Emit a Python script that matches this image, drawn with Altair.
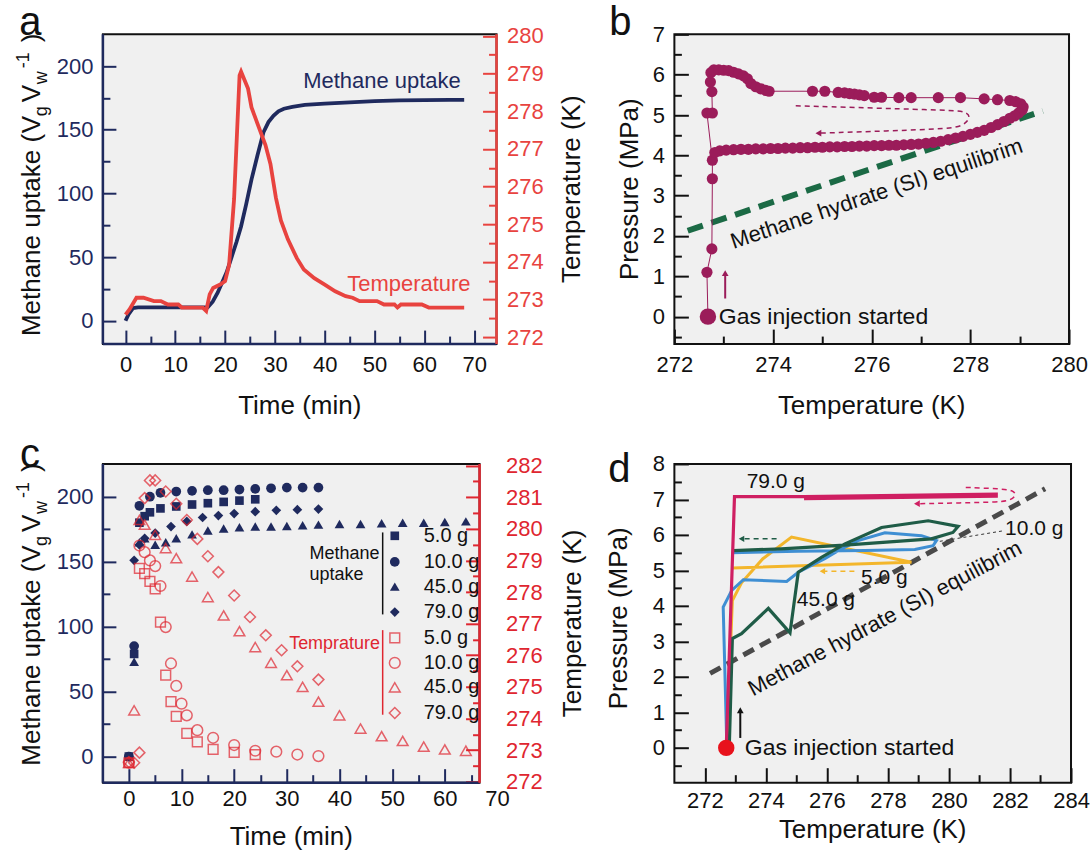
import altair as alt
import pandas as pd

FONT = "Liberation Sans"
BLACK = "#111111"
NAVY = "#1f2a5e"
RED_A = "#e8433f"
RED_C = "#df2630"
MAROON = "#9b1c5a"
GREEN_EQ = "#1b6a45"
GRAY_EQ = "#4a4a4a"
C79 = "#cf1f62"
C5 = "#f3b62b"
C10 = "#3f8fd3"
C45 = "#1f5c47"
DOT = "#e8121c"
BG = "#f0f0f0"

LABEL_FS = 22
TITLE_FS = 26
NOTE_FS = 22
LETTER_FS = 40

# ---------------- panel a data ----------------
a_uptake_t = [0, 0.6, 1.5, 2.5, 6, 10, 14, 16.5, 17.5, 18.5, 19.4, 20.3, 21.3, 22.3, 23.2, 24.2,
              25.3, 26.5, 27.7, 28.7, 29.7, 30.7, 31.8, 33.5, 36, 40, 45, 50, 55, 60, 65, 68]
a_uptake_v = [0, 5, 10, 10.5, 10.5, 10.5, 10.5, 10.5, 15, 22, 30, 38, 50, 62, 74, 91,
              111, 130, 148, 156, 161, 164.5, 166.5, 168, 169.5, 170.5, 171.5, 172.5, 173, 173.3, 173.5, 173.5]
a_temp_t = [0, 0.8, 2.2, 3.6, 5.7, 7.1, 8.5, 10.6, 11.3, 15.5, 16.2, 16.9, 17.6, 19, 20, 20.8,
            21.8, 22.9, 23.2, 24.6, 25.3, 26.7, 28.1, 29.1, 30.2, 31.2, 32.6, 34.4, 35.8, 37.9,
            40, 42.1, 44.2, 45.6, 47, 50.5, 51.9, 54, 54.6, 55.3, 59.5, 60.9, 68]
a_temp = [272.6, 272.74, 273.05, 273.05, 272.96, 272.96, 272.87, 272.87, 272.79, 272.79, 272.7,
          273.14, 273.31, 273.4, 273.49, 273.92, 275.67, 278.95, 279.05, 278.6, 278.1, 277.6,
          277.1, 276.6, 275.7, 275.1, 274.6, 274.1, 273.8, 273.57, 273.4, 273.22, 273.09,
          273.05, 272.96, 272.96, 272.87, 272.87, 272.79, 272.87, 272.87, 272.79, 272.79]

# ---------------- panel b data ----------------
b_temp = [272.68, 272.66, 272.76, 272.77, 272.77, 272.66, 272.77, 272.76, 272.73, 272.74,
          272.8, 272.9, 273.0, 273.1, 273.2, 273.3, 273.4, 273.48, 273.55, 273.65,
          273.75, 273.85, 273.92, 274.8, 275.05, 275.32, 275.45, 275.55, 275.65, 275.75,
          275.85, 276.05, 276.2, 276.55, 276.8, 277.35, 277.8, 278.28, 278.55, 278.8,
          278.92, 279.02, 279.07, 279.05, 278.98, 278.9, 278.8, 278.68, 278.55, 278.42,
          278.28, 278.14, 278.0, 277.85, 277.7, 277.55, 277.4, 277.25, 277.1, 276.95,
          276.8, 276.65, 276.5, 276.35, 276.2, 276.05, 275.9, 275.75, 275.6, 275.45,
          275.3, 275.15, 275.0, 274.85, 274.7, 274.55, 274.4, 274.25, 274.1, 273.95,
          273.8, 273.65, 273.5, 273.35, 273.2, 273.05, 272.92, 272.82]
b_pres = [0.0, 1.1, 1.68, 3.42, 3.88, 5.05, 5.05, 5.58, 5.82, 6.05,
          6.12, 6.12, 6.11, 6.1, 6.06, 6.02, 5.97, 5.9, 5.78, 5.7,
          5.65, 5.61, 5.59, 5.59, 5.59, 5.56, 5.55, 5.53, 5.52, 5.5,
          5.48, 5.44, 5.44, 5.43, 5.43, 5.43, 5.43, 5.4, 5.38, 5.36,
          5.33, 5.28, 5.2, 5.12, 5.05, 4.98, 4.92, 4.84, 4.76, 4.69,
          4.62, 4.57, 4.52, 4.47, 4.43, 4.39, 4.35, 4.32, 4.3, 4.28,
          4.27, 4.26, 4.25, 4.25, 4.24, 4.24, 4.23, 4.23, 4.22, 4.22,
          4.21, 4.21, 4.2, 4.2, 4.19, 4.19, 4.18, 4.18, 4.17, 4.17,
          4.16, 4.16, 4.15, 4.15, 4.14, 4.13, 4.11, 4.07]
b_eq_T = [272.27, 279.47]
b_eq_P = [2.13, 5.10]
b_arrow_T = [274.46, 277.5, 277.9, 278.02, 277.85, 277.5, 274.92]
b_arrow_P = [5.23, 5.12, 5.1, 4.95, 4.72, 4.65, 4.55]

# ---------------- panel c data ----------------
c_sq_t = [0, 1, 2, 3, 4, 6, 9, 12, 15, 18, 21, 24]
c_sq_v = [0, 79, 180, 185, 188, 191, 192.5, 194, 195, 196, 197, 198]
c_ci_t = [0, 1, 2, 4, 6, 9, 12, 15, 18, 21, 24, 27, 30, 33, 36]
c_ci_v = [0, 85, 193, 200, 203, 204, 204.5, 205, 205, 205.5, 206, 206.5, 207, 207, 207]
c_tr_t = [0, 1, 2, 3, 5, 7, 9, 12, 15, 18, 21, 24, 27, 30, 33, 36, 40, 44, 48, 52, 56, 60, 64]
c_tr_v = [0, 73, 165, 168, 163, 165, 168, 171, 174, 175.5, 176.5, 177, 177, 177.5, 178, 178.5,
          179, 179, 179.5, 180, 180, 180.5, 181]
c_di_t = [0, 1, 2, 3, 5, 8, 11, 14, 17, 20, 24, 28, 32, 36]
c_di_v = [0, 151, 163, 168, 172, 177, 181, 184, 185.5, 187, 188.5, 189.5, 190, 190.5]

c_osq_t = [0, 2, 3, 4, 5, 6, 7, 8, 9, 11, 13, 16, 20, 24]
c_osq_T = [272.6, 278.75, 278.58, 278.34, 278.1, 277.05, 275.37, 274.53, 274.07, 273.53, 273.26,
           273.02, 272.93, 272.86]
c_oci_t = [0, 2, 3, 4, 5, 6, 7, 8, 9, 10, 11, 13, 16, 20, 24, 28, 32, 36]
c_oci_T = [272.6, 279.47, 279.26, 279.0, 278.82, 278.19, 276.89, 275.74, 275.03, 274.47, 274.1,
           273.63, 273.39, 273.16, 272.98, 272.95, 272.86, 272.81]
c_otr_t = [0, 1, 2, 3, 5, 7, 9, 12, 15, 18, 21, 24, 27, 30, 33, 36, 40, 44, 48, 52, 56, 60, 64]
c_otr_T = [272.6, 274.26, 280.28, 280.13, 279.81, 279.39, 279.07, 278.49, 277.84, 277.26, 276.76,
           276.26, 275.76, 275.37, 275.0, 274.53, 274.1, 273.68, 273.44, 273.29, 273.11, 273.02, 272.98]
c_odi_t = [0, 1, 2, 3, 4, 5, 7, 9, 11, 13, 15, 17, 20, 23, 26, 29, 32, 36]
c_odi_T = [272.62, 272.6, 272.92, 280.97, 281.53, 281.53, 281.18, 280.79, 280.28, 279.68, 279.13,
           278.63, 277.89, 277.21, 276.63, 276.16, 275.65, 275.23]

c_legend_labels = ["5.0 g", "10.0 g", "45.0 g", "79.0 g", "5.0 g", "10.0 g", "45.0 g", "79.0 g"]
c_legend_rows = [169.9, 149.8, 130.8, 111.2, 91.4, 72.1, 53.3, 33.5]

# ---------------- panel d data ----------------
d79_T = [272.7, 272.97, 275.25, 281.55, 281.55, 275.25]
d79_P = [0.0, 7.08, 7.08, 7.15, 7.09, 7.02]
d5_T = [272.72, 272.8, 272.83, 272.9, 273.2, 273.9, 274.84, 278.77, 272.9]
d5_P = [0.0, 1.75, 2.6, 4.15, 4.65, 5.33, 5.94, 5.23, 5.07]
d10_T = [272.72, 272.6, 272.88, 273.26, 274.68, 275.06, 275.93, 276.48, 277.02, 277.9, 279.1,
         279.59, 279.48, 278.88, 277.24, 275.06, 272.88]
d10_P = [0.0, 3.97, 4.44, 4.74, 4.69, 4.95, 5.33, 5.61, 5.84, 6.06, 5.98, 5.84, 5.7, 5.59, 5.56,
         5.54, 5.5]
d45_T = [272.8, 272.9, 273.2, 274.08, 274.79, 275.06, 275.82, 276.59, 277.79, 279.32, 280.3,
         280.13, 279.42, 276.7, 274.51, 272.93]
d45_P = [0.05, 3.08, 3.22, 3.93, 3.24, 4.95, 5.37, 5.75, 6.21, 6.4, 6.24, 6.07, 5.89, 5.72, 5.61,
         5.56]
d_eq_T = [272.17, 283.15]
d_eq_P = [2.1, 7.3]
d79_arrow_T = [280.55, 281.7, 282.1, 282.22, 282.0, 281.5, 278.95]
d79_arrow_P = [7.34, 7.3, 7.26, 7.12, 6.96, 6.92, 6.88]
d45_arrow_T = [274.35, 273.2]
d45_arrow_P = [5.89, 5.89]
d5_arrow_T = [276.9, 275.85]
d5_arrow_P = [4.98, 4.98]
d10_lead_T = [279.7, 281.8]
d10_lead_P = [5.82, 6.12]


# ---------------- helpers ----------------
def lin(dom):
    return alt.Scale(domain=dom, nice=False, zero=False)


def axis(orient, values, size, color=BLACK, labels=True, label_color=None, pad=10):
    return alt.Axis(orient=orient, values=values, tickSize=size, offset=-size,
                    labels=labels, labelColor=label_color or color, tickColor=color,
                    tickWidth=2, domain=False, grid=False, title=None,
                    labelFlush=False, labelOverlap=False, labelPadding=pad,
                    labelFont=FONT, labelFontSize=LABEL_FS)


def guide(xs, ys, xaxis, yaxis, xv, yv):
    df = pd.DataFrame({"gx": [xv], "gy": [yv]})
    return alt.Chart(df).mark_point(opacity=0).encode(
        x=alt.X("gx:Q", scale=xs, axis=xaxis),
        y=alt.Y("gy:Q", scale=ys, axis=yaxis))


def px_text(rows, angle=0, align="center", baseline="middle", color=BLACK):
    df = pd.DataFrame(rows, columns=["txt", "px", "py", "fs"])
    return alt.Chart(df).mark_text(font=FONT, angle=angle, align=align,
                                   baseline=baseline, color=color).encode(
        text="txt:N",
        x=alt.X("px:Q", scale=None, axis=None),
        y=alt.Y("py:Q", scale=None, axis=None),
        size=alt.Size("fs:Q", scale=None, legend=None))


def frame_rule(x, y, x2=None, y2=None, color=NAVY):
    df = pd.DataFrame({"k": [0]})
    enc = dict(x=alt.value(x), y=alt.value(y))
    if x2 is not None:
        enc["x2"] = alt.value(x2)
    if y2 is not None:
        enc["y2"] = alt.value(y2)
    return alt.Chart(df).mark_rule(color=color, strokeWidth=2.5).encode(**enc)


def data_text(rows, xs, ys, color=BLACK, size=NOTE_FS, align="center", baseline="middle", angle=0):
    df = pd.DataFrame(rows, columns=["txt", "dx_", "dy_"])
    return alt.Chart(df).mark_text(font=FONT, fontSize=size, color=color, align=align,
                                   baseline=baseline, angle=angle).encode(
        text="txt:N",
        x=alt.X("dx_:Q", scale=xs, axis=None),
        y=alt.Y("dy_:Q", scale=ys, axis=None))


def path(xv, yv, xs, ys, **kw):
    df = pd.DataFrame({"px_": xv, "py_": yv, "i": list(range(len(xv)))})
    return alt.Chart(df).mark_line(**kw).encode(
        x=alt.X("px_:Q", scale=xs, axis=None),
        y=alt.Y("py_:Q", scale=ys, axis=None),
        order="i:Q")


def points(xv, yv, xs, ys, **kw):
    df = pd.DataFrame({"px_": xv, "py_": yv})
    return alt.Chart(df).mark_point(**kw).encode(
        x=alt.X("px_:Q", scale=xs, axis=None),
        y=alt.Y("py_:Q", scale=ys, axis=None))


def uptake_title(H):
    y0 = 302
    xb = -63
    rows = [
        ["Methane uptake (", xb, y0, 26],
        ["V", xb, y0 - 203, 26],
        ["g", xb + 7, y0 - 220, 18],
        ["V", xb, y0 - 234, 26],
        ["w", xb + 7, y0 - 252, 18],
        ["-1", xb - 11, y0 - 268, 18],
        [")", xb, y0 - 294, 26],
    ]
    return px_text(rows, angle=270, align="left", baseline="alphabetic")


def finish(layers, W, H):
    return alt.layer(*layers).properties(width=W, height=H).resolve_scale(
        x="independent", y="independent").resolve_axis(x="independent", y="independent")


# marker styles for panel c
FILLED = {"square": 75, "circle": 95, "triangle-up": 95, "diamond": 95}
OPEN = {"square": 95, "circle": 115, "triangle-up": 115, "diamond": 120}

# ---------------- panel a ----------------
W_A, H_A = 394, 310
xa = lin([-4.54, 74.5])
ya = lin([-18.3, 224.9])
ya2 = lin([271.82, 280.04])

up_df = pd.DataFrame({"t": a_uptake_t, "v": a_uptake_v})
ta_df = pd.DataFrame({"t": a_temp_t, "T": a_temp})

a_layers = [
    guide(xa, ya, axis("bottom", [5, 15, 25, 35, 45, 55, 65], 8, color=NAVY, labels=False),
          axis("left", [25, 75, 125, 175], 7, color=NAVY, labels=False), 0, 0),
    guide(xa, ya2, None, axis("right", [272.5, 273.5, 274.5, 275.5, 276.5, 277.5, 278.5, 279.5], 8,
                              color=RED_A, labels=False), 0, 275),
    alt.Chart(up_df).mark_line(color=NAVY, strokeWidth=3.8).encode(
        x=alt.X("t:Q", scale=xa, axis=axis("bottom", list(range(0, 71, 10)), 14, color=NAVY,
                                           label_color=BLACK, pad=10)),
        y=alt.Y("v:Q", scale=ya, axis=axis("left", [0, 50, 100, 150, 200], 13, color=NAVY))),
    alt.Chart(ta_df).mark_line(color=RED_A, strokeWidth=3.8).encode(
        x=alt.X("t:Q", scale=xa, axis=None),
        y=alt.Y("T:Q", scale=ya2, axis=axis("right", list(range(272, 281)), 14, color=RED_A))),
    frame_rule(0, 0, y2=H_A, color=NAVY),
    frame_rule(0, H_A, x2=W_A, color=NAVY),
    frame_rule(W_A, 0, y2=H_A, color=RED_A),
    data_text([["Methane uptake", 51.5, 188]], xa, ya, color=NAVY),
    data_text([["Temperature", 56.9, 273.42]], xa, ya2, color=RED_A),
    uptake_title(H_A),
    px_text([["Temperature (K)", W_A + 76, H_A / 2, TITLE_FS]], angle=270),
    px_text([["Time (min)", W_A / 2, H_A + 62, TITLE_FS]]),
    px_text([["a", -72.5, 1, LETTER_FS]], baseline="alphabetic"),
]
chart_a = finish(a_layers, W_A, H_A)

# ---------------- panel b ----------------
W_B, H_B = 395, 310
xb_ = lin([272, 280])
yb_ = lin([-0.68, 7.0])
b_df = pd.DataFrame({"T": b_temp, "P": b_pres, "i": list(range(len(b_temp)))})

b_layers = [
    guide(xb_, yb_, axis("bottom", [272, 274, 276, 278, 280], 15),
          axis("left", list(range(0, 8)), 14), 275, 1),
    guide(xb_, yb_, axis("bottom", [273, 275, 277, 279], 8, labels=False),
          axis("left", [-0.5, 0.5, 1.5, 2.5, 3.5, 4.5, 5.5, 6.5], 7, labels=False), 275, 1),
    path(b_eq_T, b_eq_P, xb_, yb_, color=GREEN_EQ, strokeWidth=6, strokeDash=[16, 9]),
    alt.Chart(b_df).mark_line(color=MAROON, strokeWidth=1).encode(
        x=alt.X("T:Q", scale=xb_, axis=None), y=alt.Y("P:Q", scale=yb_, axis=None), order="i:Q"),
    alt.Chart(b_df).mark_circle(color=MAROON, size=125, opacity=1).encode(
        x=alt.X("T:Q", scale=xb_, axis=None), y=alt.Y("P:Q", scale=yb_, axis=None)),
    points([272.68], [0.0], xb_, yb_, filled=True, shape="circle", size=270, color=MAROON, opacity=1),
    path(b_arrow_T, b_arrow_P, xb_, yb_, color=MAROON, strokeWidth=1.5, strokeDash=[5, 4],
         interpolate="basis"),
    points([274.92], [4.55], xb_, yb_, filled=True, shape="triangle-left", size=45, color=MAROON, opacity=1),
    path([273.03, 273.03], [0.45, 1.02], xb_, yb_, color=MAROON, strokeWidth=2),
    points([273.03], [1.08], xb_, yb_, filled=True, shape="triangle-up", size=45, color=MAROON, opacity=1),
    data_text([["Methane hydrate (SI) equilibrim", 276.1, 3.05]], xb_, yb_, angle=341.5),
    data_text([["Gas injection started", 272.9, 0.0]], xb_, yb_, align="left", size=23),
    px_text([["Pressure (MPa)", -44, H_B / 2, TITLE_FS]], angle=270),
    px_text([["Temperature (K)", W_B / 2, H_B + 62, TITLE_FS]]),
    px_text([["b", -54, 1, LETTER_FS]], baseline="alphabetic"),
]
chart_b = finish(b_layers, W_B, H_B)

# ---------------- panel c ----------------
W_C, H_C = 377, 319
xc = lin([-4.93, 66.6])
yc = lin([-20.1, 225.2])
yc2 = lin([271.97, 282.05])

leg_df_rows = [[lab, 56.0, v] for lab, v in zip(c_legend_labels, c_legend_rows)]
leg_shapes = ["square", "circle", "triangle-up", "diamond"]

c_layers = [
    guide(xc, yc, axis("bottom", [5, 15, 25, 35, 45, 55, 65], 8, color=NAVY, labels=False),
          axis("left", [25, 75, 125, 175], 7, color=NAVY, labels=False), 0, 0),
    guide(xc, yc2, None, axis("right", [272.5 + k for k in range(10)], 7, color=RED_C, labels=False),
          0, 275),
    guide(xc, yc, axis("bottom", list(range(0, 61, 10)), 14, color=NAVY, label_color=BLACK, pad=6),
          axis("left", [0, 50, 100, 150, 200], 13, color=NAVY), 0, 0),
    guide(xc, yc2, None, axis("right", list(range(272, 283)), 14, color=RED_C, pad=26), 0, 275),
    points(c_sq_t, c_sq_v, xc, yc, filled=True, shape="square", size=FILLED["square"], color=NAVY, opacity=1),
    points(c_ci_t, c_ci_v, xc, yc, filled=True, shape="circle", size=FILLED["circle"], color=NAVY, opacity=1),
    points(c_tr_t, c_tr_v, xc, yc, filled=True, shape="triangle-up", size=FILLED["triangle-up"], color=NAVY, opacity=1),
    points(c_di_t, c_di_v, xc, yc, filled=True, shape="diamond", size=FILLED["diamond"], color=NAVY, opacity=1),
    points(c_osq_t, c_osq_T, xc, yc2, filled=False, shape="square", size=OPEN["square"], color=RED_C, strokeWidth=1.5),
    points(c_oci_t, c_oci_T, xc, yc2, filled=False, shape="circle", size=OPEN["circle"], color=RED_C, strokeWidth=1.5),
    points(c_otr_t, c_otr_T, xc, yc2, filled=False, shape="triangle-up", size=OPEN["triangle-up"], color=RED_C, strokeWidth=1.5),
    points(c_odi_t, c_odi_T, xc, yc2, filled=False, shape="diamond", size=OPEN["diamond"], color=RED_C, strokeWidth=1.5),
]
for k, shp in enumerate(leg_shapes):
    c_layers.append(points([50.5], [c_legend_rows[k]], xc, yc, filled=True, shape=shp,
                           size=FILLED[shp], color=NAVY, opacity=1))
    c_layers.append(points([50.5], [c_legend_rows[k + 4]], xc, yc, filled=False, shape=shp,
                           size=OPEN[shp], color=RED_C, strokeWidth=1.5))
c_layers += [
    data_text(leg_df_rows, xc, yc, size=20, align="left"),
    path([48.2, 48.2], [172.5, 109.4], xc, yc, color=BLACK, strokeWidth=1.5),
    path([48.2, 48.2], [97.3, 32.2], xc, yc, color=RED_C, strokeWidth=1.5),
    data_text([["Methane", 34.3, 155.7], ["uptake", 34.3, 139.5]], xc, yc, size=18, align="left"),
    data_text([["Temprature", 47.7, 87.0]], xc, yc, size=18, align="right", color=RED_C),
    alt.Chart(pd.DataFrame({"t": [70]})).mark_text(font=FONT, fontSize=LABEL_FS, baseline="top",
                                                    color=BLACK).encode(
        x=alt.X("t:Q", scale=xc, axis=None), y=alt.value(H_C + 6), text=alt.value("70")),
    frame_rule(0, 0, y2=H_C, color=NAVY),
    frame_rule(0, H_C, x2=W_C, color=NAVY),
    frame_rule(W_C, 0, y2=H_C, color=RED_C),
    uptake_title(H_C),
    px_text([["Temperature (K)", W_C + 94, H_C / 2, TITLE_FS]], angle=270),
    px_text([["Time (min)", W_C / 2, H_C + 54, TITLE_FS]]),
    px_text([["c", -73, 3, LETTER_FS]], baseline="alphabetic"),
]
chart_c = finish(c_layers, W_C, H_C)

# ---------------- panel d ----------------
W_D, H_D = 397, 319
xd = lin([271.0, 284.0])
yd = lin([-0.98, 8.0])

d_layers = [
    guide(xd, yd, axis("bottom", [272, 274, 276, 278, 280, 282, 284], 15, pad=8),
          axis("left", list(range(0, 9)), 14), 275, 1),
    guide(xd, yd, axis("bottom", [273, 275, 277, 279, 281, 283], 8, labels=False),
          axis("left", [-0.5, 0.5, 1.5, 2.5, 3.5, 4.5, 5.5, 6.5, 7.5], 7, labels=False), 275, 1),
    path(d_eq_T, d_eq_P, xd, yd, color=GRAY_EQ, strokeWidth=5, strokeDash=[12, 7]),
    data_text([["Methane hydrate (SI) equilibrim", 277.9, 3.65]], xd, yd, angle=332),
    path(d10_lead_T, d10_lead_P, xd, yd, color="#333333", strokeWidth=1, strokeDash=[3, 3]),
    path(d5_T, d5_P, xd, yd, color=C5, strokeWidth=3),
    path(d10_T, d10_P, xd, yd, color=C10, strokeWidth=3),
    path(d45_T, d45_P, xd, yd, color=C45, strokeWidth=3.2),
    path(d79_T, d79_P, xd, yd, color=C79, strokeWidth=3.2),
    path(d79_arrow_T, d79_arrow_P, xd, yd, color=C79, strokeWidth=1.5, strokeDash=[5, 4],
         interpolate="basis"),
    points([278.95], [6.88], xd, yd, filled=True, shape="triangle-left", size=45, color=C79, opacity=1),
    path(d45_arrow_T, d45_arrow_P, xd, yd, color=C45, strokeWidth=1.5, strokeDash=[5, 4]),
    points([273.2], [5.89], xd, yd, filled=True, shape="triangle-left", size=40, color=C45, opacity=1),
    path(d5_arrow_T, d5_arrow_P, xd, yd, color=C5, strokeWidth=1.5, strokeDash=[5, 4]),
    points([275.85], [4.98], xd, yd, filled=True, shape="triangle-left", size=40, color=C5, opacity=1),
    data_text([["79.0 g", 273.37, 7.48], ["5.0 g", 277.12, 4.79], ["45.0 g", 275.01, 4.16],
               ["10.0 g", 281.84, 6.17]], xd, yd, size=21, align="left"),
    path([273.16, 273.16], [0.28, 1.0], xd, yd, color=BLACK, strokeWidth=2),
    points([273.16], [1.06], xd, yd, filled=True, shape="triangle-up", size=45, color=BLACK, opacity=1),
    points([272.7], [0.0], xd, yd, filled=True, shape="circle", size=270, color=DOT, opacity=1),
    data_text([["Gas injection started", 273.31, 0.0]], xd, yd, align="left", size=23),
    px_text([["Pressure (MPa)", -55, H_D / 2 - 5, TITLE_FS]], angle=270),
    px_text([["Temperature (K)", W_D / 2, H_D + 47, TITLE_FS]]),
    px_text([["d", -55, 18, LETTER_FS]], baseline="alphabetic"),
]
chart_d = finish(d_layers, W_D, H_D)

row1 = alt.hconcat(chart_a, chart_b, spacing=178, bounds="flush")
row2 = alt.hconcat(chart_c, chart_d, spacing=195, bounds="flush")
chart = alt.vconcat(row1, row2, spacing=H_A + 120, bounds="flush",
                    padding={"left": 14, "top": 2, "right": 0, "bottom": 0}).configure(
    font=FONT).configure_view(fill=BG, stroke=BLACK, strokeWidth=2)

chart.save("out.html", embed_options={"renderer": "svg", "actions": False})
